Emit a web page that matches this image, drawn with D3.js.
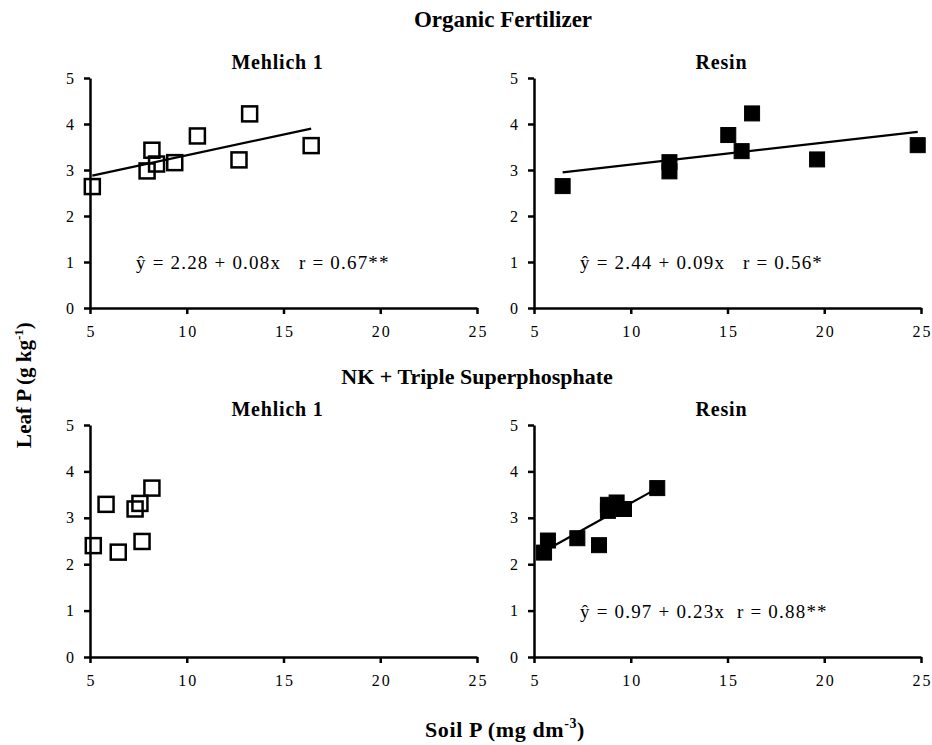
<!DOCTYPE html>
<html>
<head>
<meta charset="utf-8">
<script src="https://cdn.jsdelivr.net/npm/d3@7"></script>
<style>
  body { margin: 0; background: #fff; }
  text { font-family: "Liberation Serif", "Times New Roman", serif; fill: #000; }
</style>
</head>
<body>
<svg id="chart" width="932" height="745"></svg>
<script>
// ---------- data ----------
const xTicks = [5, 10, 15, 20, 25];
const yTicks = [0, 1, 2, 3, 4, 5];

// Organic fertilizer, Mehlich 1 (open squares)
const orgMehX = [5.12, 7.95, 8.2, 8.44, 9.38, 10.55, 12.7, 13.25, 16.43];
const orgMehY = [2.64, 2.98, 3.43, 3.13, 3.16, 3.74, 3.22, 4.22, 3.53];

// Organic fertilizer, Resin (filled squares)
const orgResX = [6.48, 12.0, 12.0, 15.04, 15.73, 16.27, 19.63, 24.83];
const orgResY = [2.65, 3.17, 2.97, 3.76, 3.41, 4.23, 3.23, 3.54];

// NK + triple superphosphate, Mehlich 1 (open squares, no fit)
const tspMehX = [5.17, 5.83, 6.46, 7.33, 7.58, 7.69, 8.2];
const tspMehY = [2.4, 3.29, 2.26, 3.19, 3.31, 2.49, 3.64];

// NK + triple superphosphate, Resin (filled squares)
const tspResX = [5.52, 5.72, 7.24, 8.36, 8.82, 8.82, 9.27, 9.65, 11.37];
const tspResY = [2.25, 2.51, 2.56, 2.41, 3.15, 3.28, 3.33, 3.19, 3.64];

const groupTitles = ["Organic Fertilizer", "NK + Triple Superphosphate"];
const methodTitles = ["Mehlich 1", "Resin"];
const equations = ["ŷ = 2.28 + 0.08x   r = 0.67**", "ŷ = 2.44 + 0.09x   r = 0.56*", null, "ŷ = 0.97 + 0.23x  r = 0.88**"];

// ---------- layout ----------
const svg = d3.select("#chart");
const cols = [[90, 477], [534, 921]];
const rows = [[308, 78], [657, 425]];
const serif = "'Liberation Serif', 'Times New Roman', serif";

const panels = [
  { xs: orgMehX, ys: orgMehY, filled: false, fit: true,  c: 0, r: 0, eq: equations[0] },
  { xs: orgResX, ys: orgResY, filled: true,  fit: true,  c: 1, r: 0, eq: equations[1] },
  { xs: tspMehX, ys: tspMehY, filled: false, fit: false, c: 0, r: 1, eq: equations[2] },
  { xs: tspResX, ys: tspResY, filled: true,  fit: true,  c: 1, r: 1, eq: equations[3] }
];

// least squares line through the points, drawn over the x range of the data
function fitLine(xs, ys) {
  const mx = d3.mean(xs), my = d3.mean(ys);
  let sxy = 0, sxx = 0;
  xs.forEach((x, i) => { sxy += (x - mx) * (ys[i] - my); sxx += (x - mx) * (x - mx); });
  const b = sxy / sxx, a = my - b * mx;
  const [x0, x1] = d3.extent(xs);
  return [[x0, a + b * x0], [x1, a + b * x1]];
}

panels.forEach(p => {
  const x = d3.scaleLinear().domain([5, 25]).range(cols[p.c]);
  const y = d3.scaleLinear().domain([0, 5]).range(rows[p.r]);
  const g = svg.append("g");

  const xa = g.append("g")
    .attr("transform", `translate(0,${y(0)})`)
    .call(d3.axisBottom(x).tickValues(xTicks).tickFormat(d3.format("d")).tickSize(6).tickSizeOuter(0).tickPadding(12));
  const ya = g.append("g")
    .attr("transform", `translate(${x(5)},0)`)
    .call(d3.axisLeft(y).tickValues(yTicks).tickFormat(d3.format("d")).tickSize(6).tickSizeOuter(0).tickPadding(10));
  [xa, ya].forEach(a => {
    a.select(".domain").attr("stroke", "#000").attr("stroke-width", 2.5);
    a.selectAll(".tick line").attr("stroke", "#000").attr("stroke-width", 2.5);
    a.selectAll(".tick text").style("font-family", serif).style("font-size", "16px");
  });
  xa.selectAll(".tick text").attr("letter-spacing", 2).attr("dx", 1);

  if (p.fit) {
    const pts = fitLine(p.xs, p.ys);
    g.append("path")
      .attr("d", d3.line().x(d => x(d[0])).y(d => y(d[1]))(pts))
      .attr("stroke", "#000").attr("stroke-width", 2.2).attr("fill", "none");
  }

  const s = 15;
  g.selectAll("rect.pt").data(p.xs.map((v, i) => [v, p.ys[i]])).enter().append("rect")
    .attr("class", "pt")
    .attr("x", d => x(d[0]) - s / 2).attr("y", d => y(d[1]) - s / 2)
    .attr("width", s).attr("height", s)
    .attr("fill", p.filled ? "#000" : "#fff")
    .attr("fill-opacity", p.filled ? 1 : 0)
    .attr("stroke", "#000").attr("stroke-width", p.filled ? 1 : 2.5);

  if (p.eq) {
    g.append("text")
      .attr("x", x(5) + 46).attr("y", y(1) + 7)
      .style("font-family", serif).style("font-size", "19px")
      .attr("letter-spacing", 1.2)
      .style("white-space", "pre")
      .text(p.eq);
  }

  g.append("text")
    .attr("x", d3.mean(cols[p.c]) - 6).attr("y", rows[p.r][1] - 9)
    .attr("text-anchor", "middle").attr("font-size", 20).attr("font-weight", "bold")
    .attr("letter-spacing", 0.8)
    .text(methodTitles[p.c]);
});

// group titles
svg.append("text").attr("x", 503).attr("y", 27).attr("text-anchor", "middle")
  .attr("font-size", 23).attr("font-weight", "bold").text(groupTitles[0]);
svg.append("text").attr("x", 477).attr("y", 384).attr("text-anchor", "middle")
  .attr("font-size", 22).attr("font-weight", "bold").text(groupTitles[1]);

// axis titles
const yl = svg.append("text")
  .attr("transform", "translate(31,385) rotate(-90)")
  .attr("text-anchor", "middle").attr("font-size", 21).attr("font-weight", "bold");
yl.append("tspan").text("Leaf P (g kg");
yl.append("tspan").attr("font-size", 13).attr("dy", -8).text("-1");
yl.append("tspan").attr("dy", 8).text(")");

const xl = svg.append("text")
  .attr("x", 505).attr("y", 737)
  .attr("text-anchor", "middle").attr("font-size", 22).attr("font-weight", "bold")
  .attr("letter-spacing", 0.6);
xl.append("tspan").text("Soil P (mg dm");
xl.append("tspan").attr("font-size", 14).attr("dy", -9).text("-3");
xl.append("tspan").attr("dy", 9).text(")");
</script>
</body>
</html>
